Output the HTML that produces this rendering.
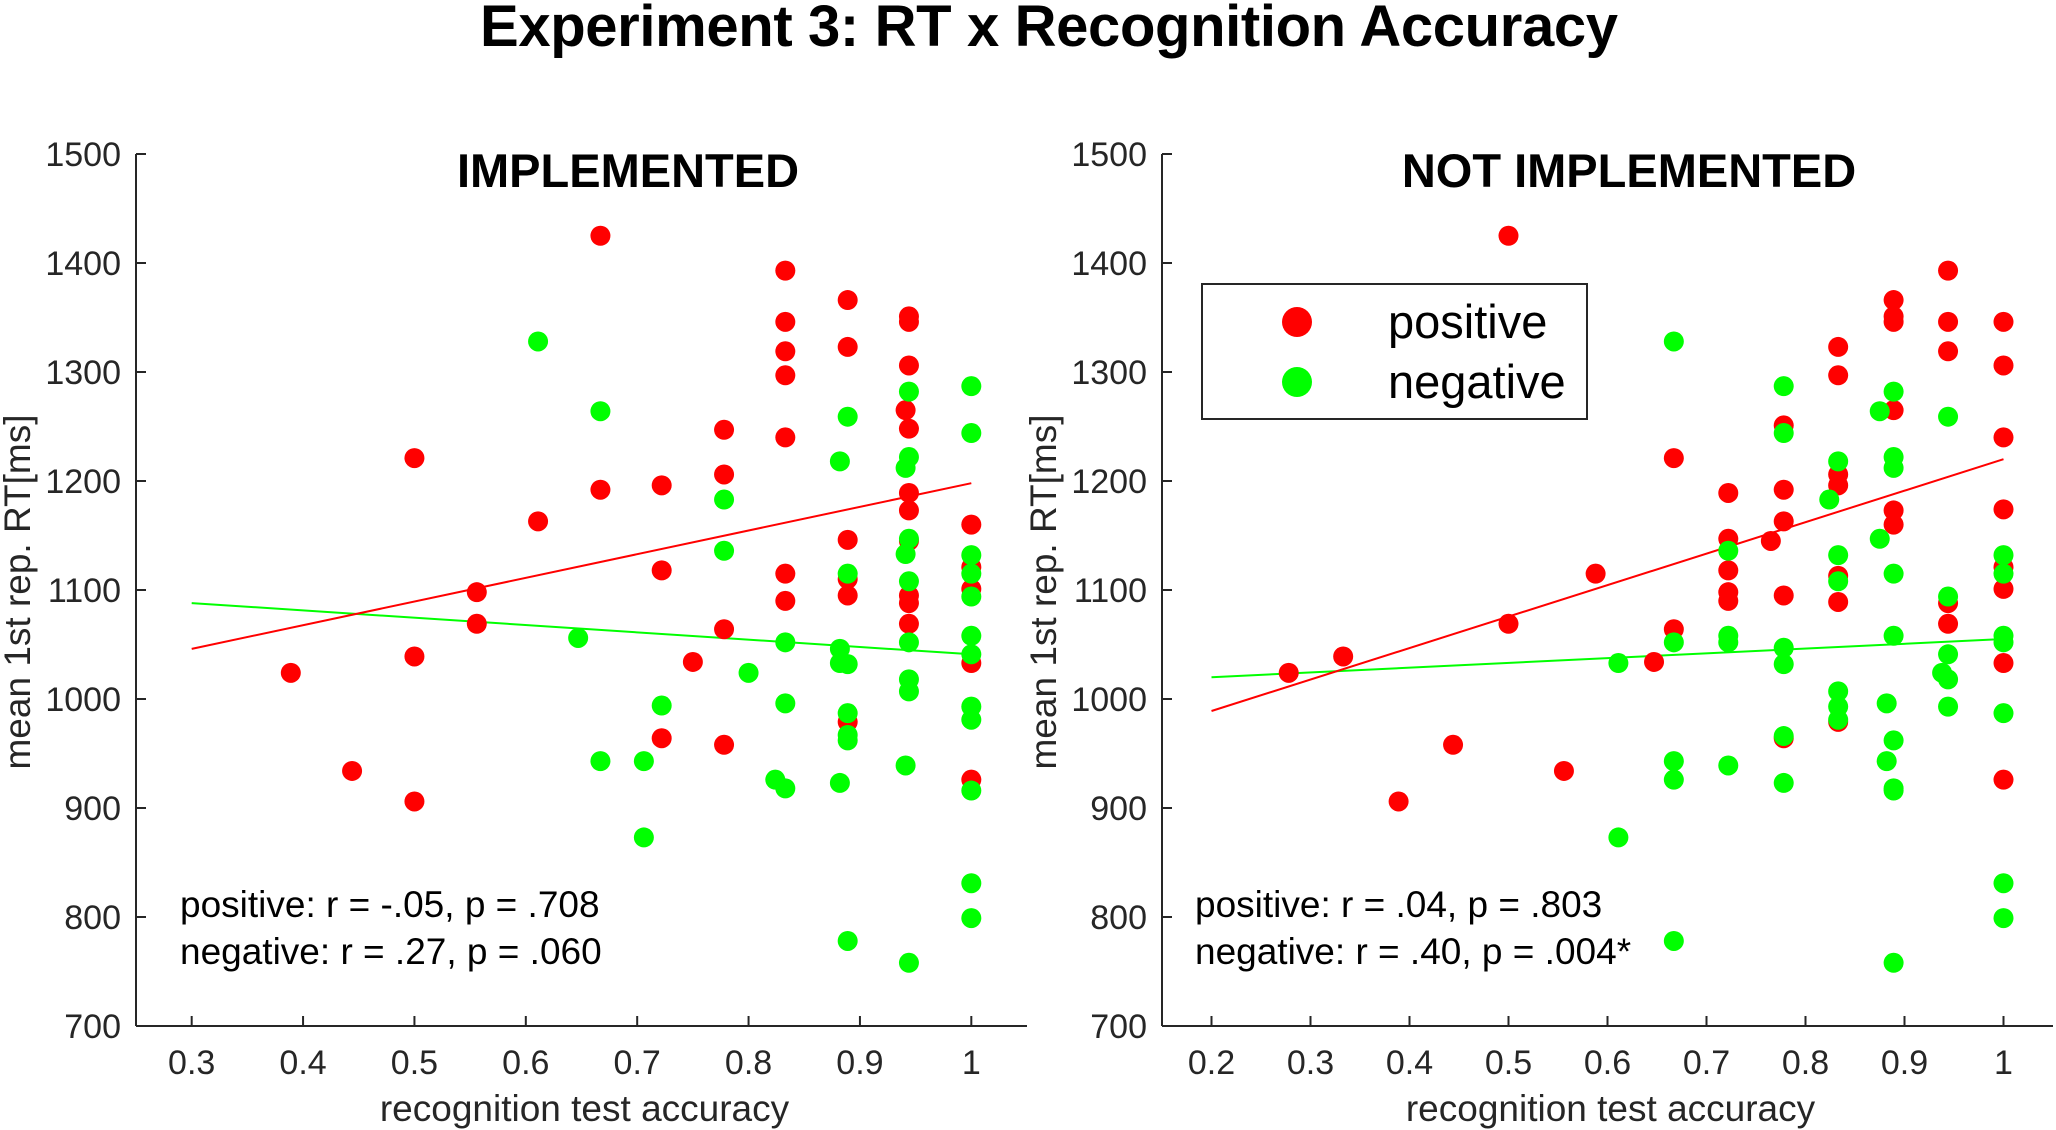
<!DOCTYPE html>
<html><head><meta charset="utf-8"><style>
html,body{margin:0;padding:0;background:#fff;}
svg{display:block;font-family:"Liberation Sans",Arial,sans-serif;}
</style></head><body>
<svg id="chart" width="2056" height="1130" viewBox="0 0 2056 1130" xmlns="http://www.w3.org/2000/svg">
<text x="1049" y="46" text-anchor="middle" font-size="58" font-weight="bold" textLength="1138">Experiment 3: RT x Recognition Accuracy</text>
<g id="p1"></g>
<g id="p2"></g>
</svg>
<script>
const yTicks=[700,800,900,1000,1100,1200,1300,1400,1500];
const xTicks1=[0.3,0.4,0.5,0.6,0.7,0.8,0.9,1];
const xTicks2=[0.2,0.3,0.4,0.5,0.6,0.7,0.8,0.9,1];
const redX1=[0.389,0.444,0.5,0.5,0.5,0.556,0.556,0.611,0.667,0.667,0.722,0.722,0.722,0.75,0.778,0.778,0.778,0.778,0.833,0.833,0.833,0.833,0.833,0.833,0.833,0.889,0.889,0.889,0.889,0.889,0.889,0.944,0.944,0.944,0.941,0.944,0.944,0.944,0.944,0.944,0.944,0.944,1,1,1,1,1];
const redY1=[1024,934,1221,1039,906,1098,1069,1163,1425,1192,1196,1118,964,1034,1247,1206,1064,958,1393,1346,1319,1297,1240,1115,1090,1366,1323,1146,1110,1095,979,1351,1346,1306,1265,1248,1189,1173,1145,1095,1088,1069,1160,1121,1101,1033,926];
const greenX1=[0.611,0.667,0.667,0.647,0.706,0.706,0.722,0.778,0.778,0.8,0.824,0.833,0.833,0.833,0.882,0.882,0.882,0.882,0.889,0.889,0.889,0.889,0.889,0.889,0.889,0.941,0.941,0.941,0.944,0.944,0.944,0.944,0.944,0.944,0.944,0.944,1,1,1,1,1,1,1,1,1,1,1,1];
const greenY1=[1328,1264,943,1056,943,873,994,1183,1136,1024,926,1052,996,918,1218,1046,1033,923,1259,1115,1032,987,967,962,778,1212,1133,939,1282,1222,1147,1108,1052,1018,1007,758,1287,1244,1132,1115,1094,1058,1041,993,981,916,831,799];
const redX2=[0.278,0.333,0.389,0.444,0.5,0.5,0.556,0.588,0.647,0.667,0.667,0.722,0.722,0.722,0.722,0.722,0.765,0.778,0.778,0.778,0.778,0.778,0.833,0.833,0.833,0.833,0.833,0.833,0.833,0.889,0.889,0.889,0.889,0.889,0.889,0.944,0.944,0.944,0.944,0.944,1,1,1,1,1,1,1,1];
const redY2=[1024,1039,906,958,1425,1069,934,1115,1034,1221,1064,1189,1147,1118,1098,1090,1145,1251,1192,1163,1095,964,1323,1297,1206,1196,1113,1089,979,1366,1351,1346,1265,1173,1160,1393,1346,1319,1088,1069,1346,1306,1240,1174,1121,1101,1033,926];
const greenX2=[0.611,0.611,0.667,0.667,0.667,0.667,0.667,0.722,0.722,0.722,0.722,0.778,0.778,0.778,0.778,0.778,0.778,0.824,0.833,0.833,0.833,0.833,0.833,0.833,0.875,0.875,0.882,0.882,0.889,0.889,0.889,0.889,0.889,0.889,0.889,0.889,0.889,0.938,0.944,0.944,0.944,0.944,0.944,1,1,1,1,1,1,1];
const greenY2=[1033,873,1328,1052,943,926,778,1136,1058,1052,939,1287,1244,1047,1032,966,923,1183,1218,1132,1108,1007,993,981,1264,1147,996,943,1282,1222,1212,1115,1058,962,918,916,758,1024,1259,1094,1041,1018,993,1132,1115,1058,1052,987,831,799];
const redFit1=[[0.3,1046],[1,1198]];
const greenFit1=[[0.3,1088],[1,1041]];
const redFit2=[[0.2,989],[1,1220]];
const greenFit2=[[0.2,1020],[1,1055]];

const NS="http://www.w3.org/2000/svg";
function mk(parent,tag,attrs,text){const e=document.createElementNS(NS,tag);for(const k in attrs)e.setAttribute(k,attrs[k]);if(text!==undefined)e.textContent=text;parent.appendChild(e);return e;}
const RED="#ff0000",GREEN="#00ff00",AX="#262626";
function panel(g,cfg){
  const top=154,bot=1026;
  const sx=v=>cfg.x0+(v-cfg.xmin)/(cfg.xmax-cfg.xmin)*(cfg.x1-cfg.x0);
  const sy=v=>bot-(v-700)/800*(bot-top);
  let e;
  e=mk(g,'line',{x1:cfg.x0,y1:top,x2:cfg.x0,y2:bot,stroke:AX,'stroke-width':2});
  
  e=mk(g,'line',{x1:cfg.x0,y1:bot,x2:cfg.x1,y2:bot,stroke:AX,'stroke-width':2});
  
  yTicks.forEach(t=>{
    const y=sy(t);
    mk(g,'line',{x1:cfg.x0,y1:y,x2:cfg.x0+10,y2:y,stroke:AX,'stroke-width':2});
    e=mk(g,'text',{x:cfg.x0-15,y:y+12,'text-anchor':'end','font-size':34,fill:AX},String(t));
    
  });
  cfg.xt.forEach(t=>{
    const x=sx(t);
    mk(g,'line',{x1:x,y1:bot,x2:x,y2:bot-10,stroke:AX,'stroke-width':2});
    e=mk(g,'text',{x:x,y:1074,'text-anchor':'middle','font-size':34,fill:AX},String(t));
    
  });
  const fits=[[cfg.gf,GREEN],[cfg.rf,RED]];
  fits.forEach(([f,c])=>{
    e=mk(g,'line',{x1:sx(f[0][0]),y1:sy(f[0][1]),x2:sx(f[1][0]),y2:sy(f[1][1]),stroke:c,'stroke-width':2});
    
  });
  cfg.rx.forEach((v,i)=>{
    e=mk(g,'circle',{cx:sx(v),cy:sy(cfg.ry[i]),r:10,fill:RED});
    
  });
  cfg.gx.forEach((v,i)=>{
    e=mk(g,'circle',{cx:sx(v),cy:sy(cfg.gy[i]),r:10,fill:GREEN});
    
  });
  e=mk(g,'text',{x:cfg.tx,y:187,'text-anchor':'middle','font-size':47,'font-weight':'bold'},cfg.title);
  
  e=mk(g,'text',{x:cfg.ax,y:917,'font-size':37},cfg.a1);
  
  e=mk(g,'text',{x:cfg.ax,y:964,'font-size':37},cfg.a2);
  
  e=mk(g,'text',{x:(cfg.x0+cfg.x1)/2+3,y:1121,'text-anchor':'middle','font-size':37,fill:AX},'recognition test accuracy');
  
  e=mk(g,'text',{x:0,y:0,'text-anchor':'middle','font-size':37,fill:AX,transform:`translate(${cfg.x0-106},592) rotate(-90)`},'mean 1st rep. RT[ms]');
  
}
panel(document.getElementById('p1'),{x0:136,x1:1027,xmin:0.25,xmax:1.05,xt:xTicks1,rx:redX1,ry:redY1,gx:greenX1,gy:greenY1,rf:redFit1,gf:greenFit1,title:'IMPLEMENTED',tx:628,ax:180,a1:'positive: r = -.05, p = .708',a2:'negative: r = .27, p = .060'});
panel(document.getElementById('p2'),{x0:1162,x1:2053,xmin:0.15,xmax:1.05,xt:xTicks2,rx:redX2,ry:redY2,gx:greenX2,gy:greenY2,rf:redFit2,gf:greenFit2,title:'NOT IMPLEMENTED',tx:1629,ax:1195,a1:'positive: r = .04, p = .803',a2:'negative: r = .40, p = .004*'});
// legend
const p2=document.getElementById('p2');
const lg=mk(p2,'g',{});


mk(lg,'rect',{x:1202,y:284,width:385,height:135,fill:'#fff',stroke:'#262626','stroke-width':2});
let le=mk(lg,'circle',{cx:1297,cy:322,r:15,fill:RED});


le=mk(lg,'circle',{cx:1297,cy:382,r:15,fill:GREEN});


le=mk(lg,'text',{x:1388,y:338,'font-size':47},'positive');


le=mk(lg,'text',{x:1388,y:398,'font-size':47},'negative');


</script>
</body></html>
